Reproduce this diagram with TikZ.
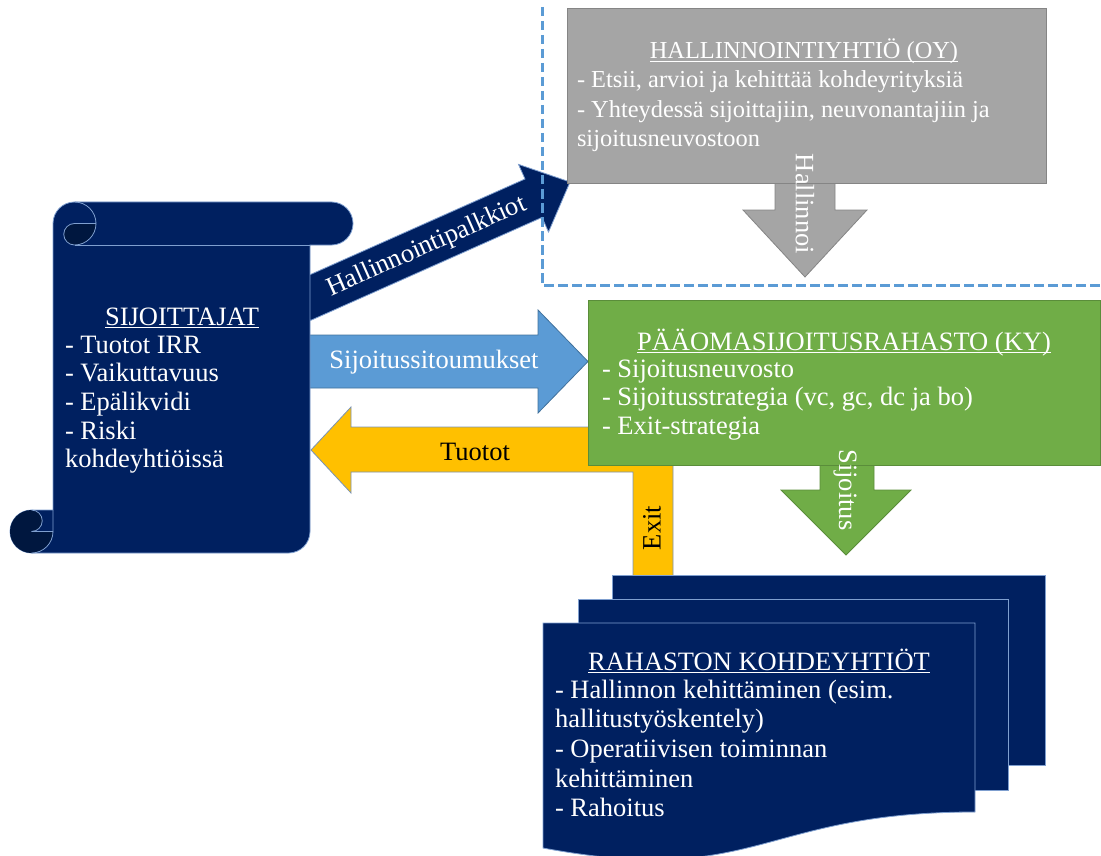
\documentclass[tikz,border=0pt]{standalone}
\usepackage{fontspec}
\setmainfont{Liberation Serif}
\definecolor{navy}{HTML}{002060}
\definecolor{navydark}{HTML}{00173F}
\definecolor{navyline}{HTML}{7F9FCF}
\definecolor{grayfill}{HTML}{A5A5A5}
\definecolor{grayline}{HTML}{858585}
\definecolor{greenfill}{HTML}{70AD47}
\definecolor{greenline}{HTML}{5A8D3A}
\definecolor{bluefill}{HTML}{5B9BD5}
\definecolor{blueline}{HTML}{41719C}
\definecolor{yellowfill}{HTML}{FFC000}
\definecolor{yellowline}{HTML}{7A93B5}
\definecolor{dashblue}{HTML}{5B9BD5}
\newcommand\txtA{\fontsize{26.5}{29}\selectfont}
\newcommand\txtB{\fontsize{24.4}{29.5}\selectfont}
\newcommand\myul[1]{\setbox0=\hbox{#1}\rlap{\rule[-2.8pt]{\wd0}{1.1pt}}\box0}
\begin{document}
\begin{tikzpicture}[x=1pt,y=-1pt,
  wtxt/.style={font=\txtA, text=white, inner sep=0pt, outer sep=0pt},
  btxt/.style={font=\txtA, text=black, inner sep=0pt, outer sep=0pt},
  gtxt/.style={font=\txtB, text=white, inner sep=0pt, outer sep=0pt},
  navyshape/.style={fill=navy, draw=navyline, line width=0.8pt},
  grayshape/.style={fill=grayfill, draw=grayline, line width=0.8pt},
  greenshape/.style={fill=greenfill, draw=greenline, line width=0.8pt},
  blueshape/.style={fill=bluefill, draw=blueline, line width=0.8pt},
  yellowshape/.style={fill=yellowfill, draw=yellowline, line width=0.8pt},
  boxnode/.style={rectangle, inner sep=0pt, outer sep=0pt, anchor=north west},
  dashline/.style={draw=dashblue, line width=3pt, dash pattern=on 9.5pt off 4.5pt},
  scrollline/.style={draw=navyline, line width=0.8pt}
]
\useasboundingbox (0,0) rectangle (1101,856);

% ---- diagonal navy arrow (Hallinnointipalkkiot)
\filldraw[navyshape] (310.2,320.6) -- (542.0,217.4) -- (548.5,232.0) -- (570,182)
  -- (518.5,164.4) -- (525.0,179.0) -- (293.2,282.2) -- cycle;
\node[wtxt, rotate=24] (feelbl) at (427,247) {Hallinnointipalkkiot};

% ---- gray arrow + gray box (HALLINNOINTIYHTIÖ)
\filldraw[grayshape] (775,175) -- (775,210) -- (743,210) -- (805,277) -- (867,210) -- (835,210) -- (835,175) -- cycle;
\node[boxnode, grayshape, minimum width=479pt, minimum height=175pt] (hy) at (567,8) {};
\node[gtxt, anchor=base] (hyT) at (804,59) {\myul{HALLINNOINTIYHTIÖ (OY)}};
\node[gtxt, anchor=base west] (hy1) at (577,88) {- Etsii, arvioi ja kehittää kohdeyrityksiä};
\node[gtxt, anchor=base west] (hy2) at (577,118) {- Yhteydessä sijoittajiin, neuvonantajiin ja};
\node[gtxt, anchor=base west] (hy3) at (577,147) {sijoitusneuvostoon};
\node[wtxt, rotate=-90] (hyA) at (805,204) {Hallinnoi};

% ---- dashed frame
\draw[dashline] (542,7) -- (542,285) -- (1101,285);

% ---- blue arrow (Sijoitussitoumukset)
\filldraw[blueshape] (300,335) -- (538,335) -- (538,310) -- (588,361.5) -- (538,413) -- (538,388) -- (300,388) -- cycle;
\node[wtxt] (sitlbl) at (434,362) {Sijoitussitoumukset};

% ---- scroll (SIJOITTAJAT)
\filldraw[navyshape] (74.5,202) -- (331.5,202) arc[start angle=-90, end angle=90, radius=21.5]
  -- (310,245) -- (310,531.5) arc[start angle=0, end angle=90, radius=21.5]
  -- (31.5,553) arc[start angle=90, end angle=270, radius=21.5]
  -- (53,510) -- (53,223.5) arc[start angle=180, end angle=270, radius=21.5] -- cycle;
\fill[navydark] (96,223.5) arc[start angle=0, end angle=90, radius=21.5]
  arc[start angle=90, end angle=270, radius=10.75] -- cycle;
\fill[navydark] (53,531.5) arc[start angle=0, end angle=270, radius=21.5]
  arc[start angle=270, end angle=450, radius=10.75] -- cycle;
\draw[scrollline] (74.5,202) arc[start angle=-90, end angle=90, radius=21.5]
  arc[start angle=90, end angle=270, radius=10.75] -- (96,223.5);
\draw[scrollline] (310,245) -- (74.5,245);
\draw[scrollline] (31.5,510) arc[start angle=270, end angle=450, radius=10.75] -- (53,531.5);
\draw[scrollline] (31.5,553) arc[start angle=90, end angle=0, radius=21.5] -- (53,510);
\node[wtxt, anchor=base] (sijT) at (182,325) {\myul{SIJOITTAJAT}};
\foreach \t [count=\i] in {{- Tuotot IRR},{- Vaikuttavuus},{- Epälikvidi},{- Riski},{kohdeyhtiöissä}}
  \node[wtxt, anchor=base west] (sij\i) at (65,{353+28.7*(\i-1)}) {\t};

% ---- yellow bent arrow (Tuotot / Exit)
\filldraw[yellowshape] (311,450) -- (351,407) -- (351,427) -- (673,427) -- (673,600)
  -- (633,600) -- (633,472) -- (351,472) -- (351,493) -- cycle;
\node[btxt] (tuolbl) at (475,452) {Tuotot};
\node[btxt, rotate=90] (exitlbl) at (652,528) {Exit};

% ---- green arrow + green box (PÄÄOMASIJOITUSRAHASTO)
\filldraw[greenshape] (820,455) -- (820,490) -- (781,490) -- (846,555) -- (911,490) -- (874,490) -- (874,455) -- cycle;
\node[boxnode, greenshape, minimum width=512pt, minimum height=165pt] (ky) at (588,300) {};
\node[wtxt, anchor=base] (kyT) at (844,350) {\myul{PÄÄOMASIJOITUSRAHASTO (KY)}};
\node[wtxt, anchor=base west] (ky1) at (602,377) {- Sijoitusneuvosto};
\node[wtxt, anchor=base west] (ky2) at (602,405.5) {- Sijoitusstrategia (vc, gc, dc ja bo)};
\node[wtxt, anchor=base west] (ky3) at (602,434) {- Exit-strategia};
\node[wtxt, rotate=-90] (kyA) at (845,490) {Sijoitus};

% ---- documents (RAHASTON KOHDEYHTIÖT)
\node[boxnode, navyshape, minimum width=433pt, minimum height=190pt] (docC) at (612,575) {};
\node[boxnode, navyshape, minimum width=430pt, minimum height=191pt] (docB) at (578,599) {};
\filldraw[navyshape] (543,623) -- (975,623) -- (975,812) .. controls (759,812) and (759,888) .. (543,848) -- cycle;
\node[wtxt, anchor=base] (docT) at (759,670) {\myul{RAHASTON KOHDEYHTIÖT}};
\foreach \t [count=\i] in {{- Hallinnon kehittäminen (esim.},{hallitustyöskentely)},{- Operatiivisen toiminnan},{kehittäminen},{- Rahoitus}}
  \node[wtxt, anchor=base west] (doc\i) at (555,{698+29.7*(\i-1)}) {\t};
\end{tikzpicture}
\end{document}
